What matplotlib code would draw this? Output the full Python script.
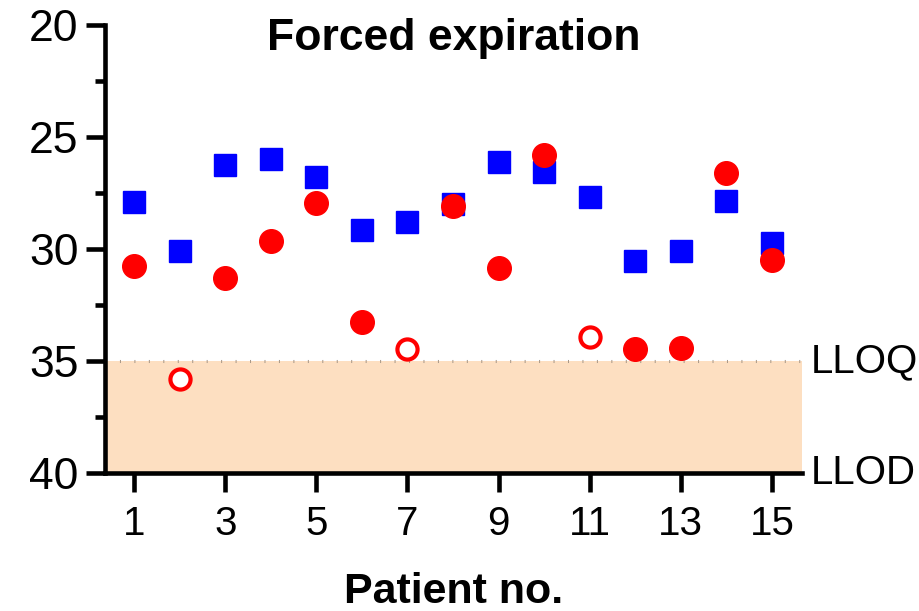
import matplotlib

matplotlib.use("Agg")
import matplotlib.pyplot as plt

plt.rcParams["font.family"] = ["Liberation Sans", "DejaVu Sans"]

patients = list(range(1, 16))
blue_ct = [27.9, 30.1, 26.25, 26.0, 26.8, 29.15, 28.8, 28.0, 26.1, 26.55, 27.7, 30.55, 30.1, 27.85, 29.75]
red_ct = [30.75, 35.8, 31.3, 29.65, 27.95, 33.25, 34.45, 28.1, 30.85, 25.8, 33.95, 34.45, 34.4, 26.6, 30.5]
red_hollow = [False, True, False, False, False, False, True, False, False, False, True, False, False, False, False]
xticks = [1, 3, 5, 7, 9, 11, 13, 15]
yticks = [20, 25, 30, 35, 40]
lloq = 35
llod = 40

fig = plt.figure(figsize=(9.2, 6.11), dpi=100)
ax = fig.add_axes([0.1141, 0.2259, 0.7576, 0.7332])

# quantifiable-limit band and its dotted upper edge
ax.axhspan(lloq, llod, color="#fddfc1", zorder=0, lw=0)
ax.axhline(lloq, color="#a89888", lw=2.2, dashes=(0.33, 4.4), zorder=1)

ax.plot(patients, blue_ct, "s", color="#0000ff", ms=16.5, mec="#0000ff", zorder=3)

solid_x = [p for p, h in zip(patients, red_hollow) if not h]
solid_y = [v for v, h in zip(red_ct, red_hollow) if not h]
hollow_x = [p for p, h in zip(patients, red_hollow) if h]
hollow_y = [v for v, h in zip(red_ct, red_hollow) if h]
ax.plot(solid_x, solid_y, "o", color="#ff0000", ms=17, zorder=4)
ax.plot(hollow_x, hollow_y, "o", mfc="white", mec="#ff0000", mew=3, ms=14.5, zorder=4)

ax.set_xlim(0.36, 15.66)
ax.set_ylim(llod, 20)
ax.set_xticks(xticks)
ax.set_yticks(yticks)
ax.set_yticks([22.5, 27.5, 32.5, 37.5], minor=True)

for side in ("top", "right"):
    ax.spines[side].set_visible(False)
for side in ("left", "bottom"):
    ax.spines[side].set_linewidth(3.3)
    ax.spines[side].set_capstyle("projecting")

ax.tick_params(axis="both", which="major", length=14, width=3.3, labelsize=32, pad=5)
ax.tick_params(axis="y", which="minor", length=7.5, width=3.3)
ax.tick_params(axis="x", pad=9, labelsize=29)

ax.text(0.5, 0.97, "Forced expiration", transform=ax.transAxes, ha="center", va="center",
        fontsize=32, fontweight="bold")
ax.set_xlabel("Patient no.", fontsize=31, fontweight="bold", labelpad=21)

ax.text(1.013, lloq, "LLOQ", transform=ax.get_yaxis_transform(), ha="left", va="center", fontsize=29)
ax.text(1.013, llod, "LLOD", transform=ax.get_yaxis_transform(), ha="left", va="center", fontsize=29)

fig.savefig("out.png", dpi=100)
